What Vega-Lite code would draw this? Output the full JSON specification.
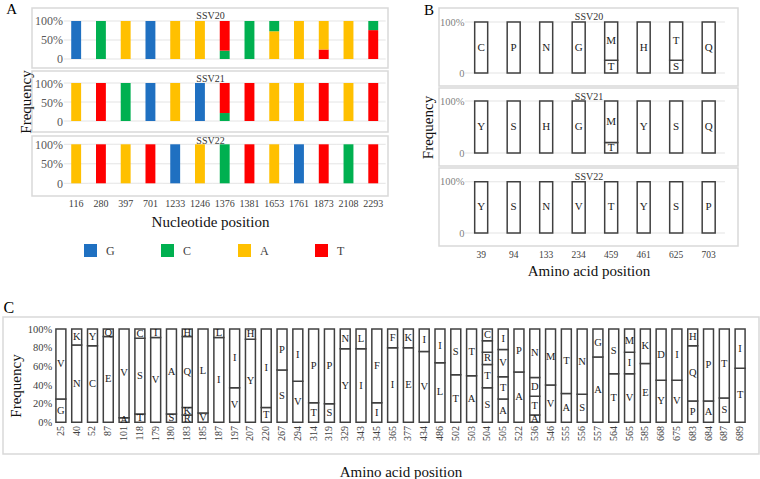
{
  "$schema": "https://vega.github.io/schema/vega-lite/v6.json",
  "padding": {"left": 2, "top": 0, "right": 0, "bottom": 0},
  "config": {
    "view": {"stroke": "#d9d9d9", "strokeWidth": 1.5},
    "font": "Liberation Serif",
    "axis": {"labelFont": "Liberation Serif", "titleFont": "Liberation Serif", "titleFontWeight": "normal", "labelColor": "#404040", "titleColor": "#111111", "ticks": false, "domain": false, "grid": false, "labelOverlap": false},
    "legend": {"labelFont": "Liberation Serif"}
  },
  "datasets": {
    "gridA": [
      {"pos": "116", "v": 0}, {"pos": "280", "v": 0}, {"pos": "397", "v": 0}, {"pos": "701", "v": 0}, {"pos": "1233", "v": 0}, {"pos": "1246", "v": 0}, {"pos": "1376", "v": 0}, {"pos": "1381", "v": 0}, {"pos": "1653", "v": 0}, {"pos": "1761", "v": 0}, {"pos": "1873", "v": 0}, {"pos": "2108", "v": 0}, {"pos": "2293", "v": 0},
      {"pos": "116", "v": 0.5}, {"pos": "280", "v": 0.5}, {"pos": "397", "v": 0.5}, {"pos": "701", "v": 0.5}, {"pos": "1233", "v": 0.5}, {"pos": "1246", "v": 0.5}, {"pos": "1376", "v": 0.5}, {"pos": "1381", "v": 0.5}, {"pos": "1653", "v": 0.5}, {"pos": "1761", "v": 0.5}, {"pos": "1873", "v": 0.5}, {"pos": "2108", "v": 0.5}, {"pos": "2293", "v": 0.5},
      {"pos": "116", "v": 1}, {"pos": "280", "v": 1}, {"pos": "397", "v": 1}, {"pos": "701", "v": 1}, {"pos": "1233", "v": 1}, {"pos": "1246", "v": 1}, {"pos": "1376", "v": 1}, {"pos": "1381", "v": 1}, {"pos": "1653", "v": 1}, {"pos": "1761", "v": 1}, {"pos": "1873", "v": 1}, {"pos": "2108", "v": 1}, {"pos": "2293", "v": 1}
    ],
    "gridB": [
      {"pos": "39", "v": 0}, {"pos": "94", "v": 0}, {"pos": "133", "v": 0}, {"pos": "234", "v": 0}, {"pos": "459", "v": 0}, {"pos": "461", "v": 0}, {"pos": "625", "v": 0}, {"pos": "703", "v": 0},
      {"pos": "39", "v": 1}, {"pos": "94", "v": 1}, {"pos": "133", "v": 1}, {"pos": "234", "v": 1}, {"pos": "459", "v": 1}, {"pos": "461", "v": 1}, {"pos": "625", "v": 1}, {"pos": "703", "v": 1}
    ],
    "nt": [
      {"s": "SSV20", "pos": "116", "nt": "G", "v": 1, "o": 1},
      {"s": "SSV20", "pos": "280", "nt": "C", "v": 1, "o": 1},
      {"s": "SSV20", "pos": "397", "nt": "A", "v": 1, "o": 1},
      {"s": "SSV20", "pos": "701", "nt": "G", "v": 1, "o": 1},
      {"s": "SSV20", "pos": "1233", "nt": "A", "v": 1, "o": 1},
      {"s": "SSV20", "pos": "1246", "nt": "A", "v": 1, "o": 1},
      {"s": "SSV20", "pos": "1376", "nt": "C", "v": 0.22, "o": 1},
      {"s": "SSV20", "pos": "1376", "nt": "T", "v": 0.78, "o": 2},
      {"s": "SSV20", "pos": "1381", "nt": "C", "v": 1, "o": 1},
      {"s": "SSV20", "pos": "1653", "nt": "A", "v": 0.73, "o": 1},
      {"s": "SSV20", "pos": "1653", "nt": "C", "v": 0.27, "o": 2},
      {"s": "SSV20", "pos": "1761", "nt": "A", "v": 1, "o": 1},
      {"s": "SSV20", "pos": "1873", "nt": "T", "v": 0.25, "o": 1},
      {"s": "SSV20", "pos": "1873", "nt": "A", "v": 0.75, "o": 2},
      {"s": "SSV20", "pos": "2108", "nt": "A", "v": 1, "o": 1},
      {"s": "SSV20", "pos": "2293", "nt": "T", "v": 0.76, "o": 1},
      {"s": "SSV20", "pos": "2293", "nt": "C", "v": 0.24, "o": 2},
      {"s": "SSV21", "pos": "116", "nt": "A", "v": 1, "o": 1},
      {"s": "SSV21", "pos": "280", "nt": "T", "v": 1, "o": 1},
      {"s": "SSV21", "pos": "397", "nt": "C", "v": 1, "o": 1},
      {"s": "SSV21", "pos": "701", "nt": "G", "v": 1, "o": 1},
      {"s": "SSV21", "pos": "1233", "nt": "A", "v": 1, "o": 1},
      {"s": "SSV21", "pos": "1246", "nt": "G", "v": 1, "o": 1},
      {"s": "SSV21", "pos": "1376", "nt": "C", "v": 0.21, "o": 1},
      {"s": "SSV21", "pos": "1376", "nt": "T", "v": 0.79, "o": 2},
      {"s": "SSV21", "pos": "1381", "nt": "T", "v": 1, "o": 1},
      {"s": "SSV21", "pos": "1653", "nt": "A", "v": 1, "o": 1},
      {"s": "SSV21", "pos": "1761", "nt": "A", "v": 1, "o": 1},
      {"s": "SSV21", "pos": "1873", "nt": "T", "v": 1, "o": 1},
      {"s": "SSV21", "pos": "2108", "nt": "A", "v": 1, "o": 1},
      {"s": "SSV21", "pos": "2293", "nt": "T", "v": 1, "o": 1},
      {"s": "SSV22", "pos": "116", "nt": "A", "v": 1, "o": 1},
      {"s": "SSV22", "pos": "280", "nt": "T", "v": 1, "o": 1},
      {"s": "SSV22", "pos": "397", "nt": "A", "v": 1, "o": 1},
      {"s": "SSV22", "pos": "701", "nt": "T", "v": 1, "o": 1},
      {"s": "SSV22", "pos": "1233", "nt": "G", "v": 1, "o": 1},
      {"s": "SSV22", "pos": "1246", "nt": "A", "v": 1, "o": 1},
      {"s": "SSV22", "pos": "1376", "nt": "C", "v": 1, "o": 1},
      {"s": "SSV22", "pos": "1381", "nt": "T", "v": 1, "o": 1},
      {"s": "SSV22", "pos": "1653", "nt": "A", "v": 1, "o": 1},
      {"s": "SSV22", "pos": "1761", "nt": "G", "v": 1, "o": 1},
      {"s": "SSV22", "pos": "1873", "nt": "T", "v": 1, "o": 1},
      {"s": "SSV22", "pos": "2108", "nt": "C", "v": 1, "o": 1},
      {"s": "SSV22", "pos": "2293", "nt": "T", "v": 1, "o": 1}
    ],
    "aaB": [
      {"s": "SSV20", "pos": "39", "aa": "C", "v": 1, "o": 1},
      {"s": "SSV20", "pos": "94", "aa": "P", "v": 1, "o": 1},
      {"s": "SSV20", "pos": "133", "aa": "N", "v": 1, "o": 1},
      {"s": "SSV20", "pos": "234", "aa": "G", "v": 1, "o": 1},
      {"s": "SSV20", "pos": "459", "aa": "T", "v": 0.25, "o": 1},
      {"s": "SSV20", "pos": "459", "aa": "M", "v": 0.75, "o": 2},
      {"s": "SSV20", "pos": "461", "aa": "H", "v": 1, "o": 1},
      {"s": "SSV20", "pos": "625", "aa": "S", "v": 0.25, "o": 1},
      {"s": "SSV20", "pos": "625", "aa": "T", "v": 0.75, "o": 2},
      {"s": "SSV20", "pos": "703", "aa": "Q", "v": 1, "o": 1},
      {"s": "SSV21", "pos": "39", "aa": "Y", "v": 1, "o": 1},
      {"s": "SSV21", "pos": "94", "aa": "S", "v": 1, "o": 1},
      {"s": "SSV21", "pos": "133", "aa": "H", "v": 1, "o": 1},
      {"s": "SSV21", "pos": "234", "aa": "G", "v": 1, "o": 1},
      {"s": "SSV21", "pos": "459", "aa": "T", "v": 0.2, "o": 1},
      {"s": "SSV21", "pos": "459", "aa": "M", "v": 0.8, "o": 2},
      {"s": "SSV21", "pos": "461", "aa": "Y", "v": 1, "o": 1},
      {"s": "SSV21", "pos": "625", "aa": "S", "v": 1, "o": 1},
      {"s": "SSV21", "pos": "703", "aa": "Q", "v": 1, "o": 1},
      {"s": "SSV22", "pos": "39", "aa": "Y", "v": 1, "o": 1},
      {"s": "SSV22", "pos": "94", "aa": "S", "v": 1, "o": 1},
      {"s": "SSV22", "pos": "133", "aa": "N", "v": 1, "o": 1},
      {"s": "SSV22", "pos": "234", "aa": "V", "v": 1, "o": 1},
      {"s": "SSV22", "pos": "459", "aa": "T", "v": 1, "o": 1},
      {"s": "SSV22", "pos": "461", "aa": "Y", "v": 1, "o": 1},
      {"s": "SSV22", "pos": "625", "aa": "S", "v": 1, "o": 1},
      {"s": "SSV22", "pos": "703", "aa": "P", "v": 1, "o": 1}
    ],
    "aaC": [
      {"pos": "25", "aa": "G", "v": 0.25, "o": 1}, {"pos": "25", "aa": "V", "v": 0.75, "o": 2},
      {"pos": "40", "aa": "N", "v": 0.83, "o": 1}, {"pos": "40", "aa": "K", "v": 0.17, "o": 2},
      {"pos": "52", "aa": "C", "v": 0.82, "o": 1}, {"pos": "52", "aa": "Y", "v": 0.18, "o": 2},
      {"pos": "87", "aa": "E", "v": 0.92, "o": 1}, {"pos": "87", "aa": "Q", "v": 0.08, "o": 2},
      {"pos": "101", "aa": "A", "v": 0.05, "o": 1}, {"pos": "101", "aa": "V", "v": 0.95, "o": 2},
      {"pos": "118", "aa": "T", "v": 0.09, "o": 1}, {"pos": "118", "aa": "S", "v": 0.81, "o": 2}, {"pos": "118", "aa": "C", "v": 0.10, "o": 3},
      {"pos": "179", "aa": "V", "v": 0.91, "o": 1}, {"pos": "179", "aa": "I", "v": 0.09, "o": 2},
      {"pos": "180", "aa": "S", "v": 0.09, "o": 1}, {"pos": "180", "aa": "A", "v": 0.91, "o": 2},
      {"pos": "183", "aa": "R", "v": 0.08, "o": 1}, {"pos": "183", "aa": "K", "v": 0.08, "o": 2}, {"pos": "183", "aa": "Q", "v": 0.76, "o": 3}, {"pos": "183", "aa": "H", "v": 0.08, "o": 4},
      {"pos": "185", "aa": "V", "v": 0.10, "o": 1}, {"pos": "185", "aa": "L", "v": 0.90, "o": 2},
      {"pos": "187", "aa": "I", "v": 0.91, "o": 1}, {"pos": "187", "aa": "L", "v": 0.09, "o": 2},
      {"pos": "197", "aa": "V", "v": 0.37, "o": 1}, {"pos": "197", "aa": "I", "v": 0.63, "o": 2},
      {"pos": "207", "aa": "Y", "v": 0.89, "o": 1}, {"pos": "207", "aa": "H", "v": 0.11, "o": 2},
      {"pos": "220", "aa": "T", "v": 0.16, "o": 1}, {"pos": "220", "aa": "I", "v": 0.84, "o": 2},
      {"pos": "267", "aa": "S", "v": 0.56, "o": 1}, {"pos": "267", "aa": "P", "v": 0.44, "o": 2},
      {"pos": "294", "aa": "V", "v": 0.44, "o": 1}, {"pos": "294", "aa": "I", "v": 0.56, "o": 2},
      {"pos": "314", "aa": "T", "v": 0.21, "o": 1}, {"pos": "314", "aa": "P", "v": 0.79, "o": 2},
      {"pos": "319", "aa": "S", "v": 0.20, "o": 1}, {"pos": "319", "aa": "P", "v": 0.80, "o": 2},
      {"pos": "329", "aa": "Y", "v": 0.79, "o": 1}, {"pos": "329", "aa": "N", "v": 0.21, "o": 2},
      {"pos": "343", "aa": "I", "v": 0.79, "o": 1}, {"pos": "343", "aa": "L", "v": 0.21, "o": 2},
      {"pos": "345", "aa": "I", "v": 0.21, "o": 1}, {"pos": "345", "aa": "F", "v": 0.79, "o": 2},
      {"pos": "365", "aa": "I", "v": 0.80, "o": 1}, {"pos": "365", "aa": "F", "v": 0.20, "o": 2},
      {"pos": "377", "aa": "E", "v": 0.80, "o": 1}, {"pos": "377", "aa": "K", "v": 0.20, "o": 2},
      {"pos": "434", "aa": "V", "v": 0.76, "o": 1}, {"pos": "434", "aa": "I", "v": 0.24, "o": 2},
      {"pos": "486", "aa": "L", "v": 0.64, "o": 1}, {"pos": "486", "aa": "I", "v": 0.36, "o": 2},
      {"pos": "502", "aa": "T", "v": 0.51, "o": 1}, {"pos": "502", "aa": "S", "v": 0.49, "o": 2},
      {"pos": "503", "aa": "A", "v": 0.50, "o": 1}, {"pos": "503", "aa": "T", "v": 0.50, "o": 2},
      {"pos": "504", "aa": "S", "v": 0.37, "o": 1}, {"pos": "504", "aa": "T", "v": 0.25, "o": 2}, {"pos": "504", "aa": "R", "v": 0.13, "o": 3}, {"pos": "504", "aa": "", "v": 0.125, "o": 4}, {"pos": "504", "aa": "C", "v": 0.125, "o": 5},
      {"pos": "505", "aa": "A", "v": 0.25, "o": 1}, {"pos": "505", "aa": "T", "v": 0.24, "o": 2}, {"pos": "505", "aa": "V", "v": 0.29, "o": 3}, {"pos": "505", "aa": "I", "v": 0.22, "o": 4},
      {"pos": "522", "aa": "A", "v": 0.54, "o": 1}, {"pos": "522", "aa": "P", "v": 0.46, "o": 2},
      {"pos": "536", "aa": "A", "v": 0.08, "o": 1}, {"pos": "536", "aa": "T", "v": 0.20, "o": 2}, {"pos": "536", "aa": "D", "v": 0.20, "o": 3}, {"pos": "536", "aa": "N", "v": 0.52, "o": 4},
      {"pos": "546", "aa": "V", "v": 0.40, "o": 1}, {"pos": "546", "aa": "M", "v": 0.60, "o": 2},
      {"pos": "555", "aa": "A", "v": 0.31, "o": 1}, {"pos": "555", "aa": "T", "v": 0.69, "o": 2},
      {"pos": "556", "aa": "S", "v": 0.30, "o": 1}, {"pos": "556", "aa": "N", "v": 0.70, "o": 2},
      {"pos": "557", "aa": "A", "v": 0.70, "o": 1}, {"pos": "557", "aa": "G", "v": 0.30, "o": 2},
      {"pos": "564", "aa": "T", "v": 0.52, "o": 1}, {"pos": "564", "aa": "S", "v": 0.48, "o": 2},
      {"pos": "565", "aa": "V", "v": 0.52, "o": 1}, {"pos": "565", "aa": "I", "v": 0.23, "o": 2}, {"pos": "565", "aa": "M", "v": 0.25, "o": 3},
      {"pos": "585", "aa": "E", "v": 0.63, "o": 1}, {"pos": "585", "aa": "K", "v": 0.37, "o": 2},
      {"pos": "668", "aa": "Y", "v": 0.45, "o": 1}, {"pos": "668", "aa": "D", "v": 0.55, "o": 2},
      {"pos": "675", "aa": "V", "v": 0.45, "o": 1}, {"pos": "675", "aa": "I", "v": 0.55, "o": 2},
      {"pos": "683", "aa": "P", "v": 0.23, "o": 1}, {"pos": "683", "aa": "Q", "v": 0.59, "o": 2}, {"pos": "683", "aa": "H", "v": 0.18, "o": 3},
      {"pos": "684", "aa": "A", "v": 0.23, "o": 1}, {"pos": "684", "aa": "P", "v": 0.77, "o": 2},
      {"pos": "687", "aa": "S", "v": 0.26, "o": 1}, {"pos": "687", "aa": "T", "v": 0.74, "o": 2},
      {"pos": "689", "aa": "T", "v": 0.58, "o": 1}, {"pos": "689", "aa": "I", "v": 0.42, "o": 2}
    ]
  },
  "concat": [
    {
      "spacing": 0,
      "hconcat": [
        {"width": 1, "height": 1, "view": {"stroke": null}, "data": {"values": []}, "mark": "point"},
        {
          "spacing": 30,
          "hconcat": [
            {
              "resolve": {"scale": {"color": "independent", "x": "independent", "y": "independent"}},
              "spacing": 0,
              "vconcat": [
                {
                  "width": 356, "height": 60,
                  "resolve": {"axis": {"x": "independent"}},
                  "layer": [
                    {"data": {"name": "gridA"}, "mark": {"type": "tick", "color": "#d9d9d9", "thickness": 1, "size": 24.8},
                     "encoding": {
                       "x": {"field": "pos", "type": "nominal", "axis": {"orient": "top", "labels": false, "title": "SSV20", "titleFontSize": 10, "titleColor": "#333333", "titleBaseline": "middle", "titleY": 7.5, "titlePadding": 0}},
                       "y": {"field": "v", "type": "quantitative", "axis": {"values": [0, 0.5, 1], "labelExpr": "datum.value == 0 ? '0' : format(datum.value, '.0%')", "offset": -31.5, "labelPadding": 1, "labelFontSize": 12, "labelColor": "#595959", "title": "A", "titleAngle": 0, "titleAlign": "right", "titleBaseline": "alphabetic", "titleY": 5, "titlePadding": 18, "titleFontSize": 15, "titleColor": "#000000"}}
                     }},
                    {"data": {"name": "nt"}, "transform": [{"filter": "datum.s == 'SSV20'"}], "mark": {"type": "bar"},
                     "encoding": {
                       "x": {"field": "pos", "type": "nominal", "scale": {"type": "band", "domain": ["116","280","397","701","1233","1246","1376","1381","1653","1761","1873","2108","2293"], "paddingInner": 0.6, "paddingOuter": 0.99, "align": 0.8}, "axis": null},
                       "y": {"field": "v", "type": "quantitative", "stack": "zero", "scale": {"domain": [-0.237, 1.342], "nice": false, "zero": false}, "axis": {"values": [0, 0.5, 1], "labelExpr": "datum.value == 0 ? '0' : format(datum.value, '.0%')", "offset": -31.5, "labelPadding": 1, "labelFontSize": 12, "labelColor": "#595959", "title": "A", "titleAngle": 0, "titleAlign": "right", "titleBaseline": "alphabetic", "titleY": 5, "titlePadding": 18, "titleFontSize": 15, "titleColor": "#000000"}},
                       "color": {"field": "nt", "type": "nominal", "scale": {"domain": ["G", "C", "A", "T"], "range": ["#1f70c1", "#00b050", "#ffc000", "#ff0000"]}, "legend": null},
                       "order": {"field": "o", "type": "quantitative"}
                     }}
                  ]
                },
                {
                  "width": 356, "height": 61,
                  "resolve": {"axis": {"x": "independent"}},
                  "layer": [
                    {"data": {"name": "gridA"}, "mark": {"type": "tick", "color": "#d9d9d9", "thickness": 1, "size": 24.8},
                     "encoding": {
                       "x": {"field": "pos", "type": "nominal", "axis": {"orient": "top", "labels": false, "title": "SSV21", "titleFontSize": 10, "titleColor": "#333333", "titleBaseline": "middle", "titleY": 7, "titlePadding": 0}},
                       "y": {"field": "v", "type": "quantitative", "axis": {"values": [0, 0.5, 1], "labelExpr": "datum.value == 0 ? '0' : format(datum.value, '.0%')", "offset": -31.5, "labelPadding": 1, "labelFontSize": 12, "labelColor": "#595959", "title": "Frequency", "titleFontSize": 15, "titlePadding": 1}}
                     }},
                    {"data": {"name": "nt"}, "transform": [{"filter": "datum.s == 'SSV21'"}], "mark": {"type": "bar"},
                     "encoding": {
                       "x": {"field": "pos", "type": "nominal", "scale": {"type": "band", "domain": ["116","280","397","701","1233","1246","1376","1381","1653","1761","1873","2108","2293"], "paddingInner": 0.6, "paddingOuter": 0.99, "align": 0.8}, "axis": null},
                       "y": {"field": "v", "type": "quantitative", "stack": "zero", "scale": {"domain": [-0.289, 1.316], "nice": false, "zero": false}, "axis": {"values": [0, 0.5, 1], "labelExpr": "datum.value == 0 ? '0' : format(datum.value, '.0%')", "offset": -31.5, "labelPadding": 1, "labelFontSize": 12, "labelColor": "#595959", "title": "Frequency", "titleFontSize": 15, "titlePadding": 1}},
                       "color": {"field": "nt", "type": "nominal", "scale": {"domain": ["G", "C", "A", "T"], "range": ["#1f70c1", "#00b050", "#ffc000", "#ff0000"]}, "legend": null},
                       "order": {"field": "o", "type": "quantitative"}
                     }}
                  ]
                },
                {
                  "width": 356, "height": 60,
                  "resolve": {"axis": {"x": "independent"}},
                  "layer": [
                    {"data": {"name": "gridA"}, "mark": {"type": "tick", "color": "#d9d9d9", "thickness": 1, "size": 24.8},
                     "encoding": {
                       "x": {"field": "pos", "type": "nominal", "axis": {"orient": "top", "labels": false, "title": "SSV22", "titleFontSize": 10, "titleColor": "#333333", "titleBaseline": "middle", "titleY": 4.5, "titlePadding": 0}},
                       "y": {"field": "v", "type": "quantitative", "axis": {"values": [0, 0.5, 1], "labelExpr": "datum.value == 0 ? '0' : format(datum.value, '.0%')", "offset": -31.5, "labelPadding": 1, "labelFontSize": 12, "labelColor": "#595959", "title": null}}
                     }},
                    {"data": {"name": "nt"}, "transform": [{"filter": "datum.s == 'SSV22'"}], "mark": {"type": "bar"},
                     "encoding": {
                       "x": {"field": "pos", "type": "nominal", "scale": {"type": "band", "domain": ["116","280","397","701","1233","1246","1376","1381","1653","1761","1873","2108","2293"], "paddingInner": 0.6, "paddingOuter": 0.99, "align": 0.8}, "axis": {"labelAngle": 0, "labelFontSize": 10, "labelPadding": 2, "title": "Nucleotide position", "titleFontSize": 15, "titlePadding": 6}},
                       "y": {"field": "v", "type": "quantitative", "stack": "zero", "scale": {"domain": [-0.326, 1.213], "nice": false, "zero": false}, "axis": {"values": [0, 0.5, 1], "labelExpr": "datum.value == 0 ? '0' : format(datum.value, '.0%')", "offset": -31.5, "labelPadding": 1, "labelFontSize": 12, "labelColor": "#595959", "title": null}},
                       "color": {"field": "nt", "type": "nominal", "scale": {"domain": ["G", "C", "A", "T"], "range": ["#1f70c1", "#00b050", "#ffc000", "#ff0000"]}, "legend": {"orient": "none", "legendX": 52, "legendY": 108, "padding": 0, "direction": "horizontal", "title": null, "symbolType": "square", "symbolSize": 169, "symbolStrokeWidth": 0, "labelFontSize": 12, "labelColor": "#404040", "labelOffset": 9, "columnPadding": 46}},
                       "order": {"field": "o", "type": "quantitative"}
                     }}
                  ]
                }
              ]
            },
            {
              "resolve": {"scale": {"x": "independent", "y": "independent"}},
              "spacing": 0,
              "vconcat": [
                {
                  "width": 299, "height": 78,
                  "resolve": {"axis": {"x": "independent"}},
                  "layer": [
                    {"data": {"name": "gridB"}, "mark": {"type": "tick", "color": "#d9d9d9", "thickness": 1, "size": 32.6},
                     "encoding": {
                       "x": {"field": "pos", "type": "nominal", "axis": {"orient": "top", "labels": false, "title": "SSV20", "titleFontSize": 10, "titleColor": "#333333", "titleBaseline": "middle", "titleY": 8, "titlePadding": 0}},
                       "y": {"field": "v", "type": "quantitative", "axis": {"values": [0, 1], "labelExpr": "datum.value == 0 ? '0' : format(datum.value, '.0%')", "offset": -26, "labelPadding": 1, "labelFontSize": 10.5, "labelColor": "#7f7f7f", "title": "B", "titleAngle": 0, "titleAlign": "right", "titleBaseline": "alphabetic", "titleY": 6, "titlePadding": 6, "titleFontSize": 15, "titleColor": "#000000"}}
                     }},
                    {"data": {"name": "aaB"}, "transform": [{"filter": "datum.s == 'SSV20'"}], "mark": {"type": "bar", "fill": "#ffffff", "stroke": "#404040", "strokeWidth": 1.5},
                     "encoding": {
                       "x": {"field": "pos", "type": "nominal", "scale": {"type": "band", "domain": ["39","94","133","234","459","461","625","703"], "paddingInner": 0.6, "paddingOuter": 0.9, "align": 0.61}, "axis": null},
                       "y": {"field": "v", "type": "quantitative", "stack": "zero", "scale": {"domain": [-0.255, 1.275], "nice": false, "zero": false}, "axis": {"values": [0, 1], "labelExpr": "datum.value == 0 ? '0' : format(datum.value, '.0%')", "offset": -26, "labelPadding": 1, "labelFontSize": 10.5, "labelColor": "#7f7f7f", "title": "B", "titleAngle": 0, "titleAlign": "right", "titleBaseline": "alphabetic", "titleY": 6, "titlePadding": 6, "titleFontSize": 15, "titleColor": "#000000"}},
                       "detail": {"field": "o", "type": "nominal"},
                       "order": {"field": "o", "type": "quantitative"}
                     }},
                    {"data": {"name": "aaB"}, "transform": [{"filter": "datum.s == 'SSV20'"}], "mark": {"type": "text", "font": "Liberation Serif", "fontSize": 11, "fill": "#1a1a1a"},
                     "encoding": {
                       "x": {"field": "pos", "type": "nominal", "axis": null},
                       "y": {"field": "v", "type": "quantitative", "stack": "zero", "bandPosition": 0.5, "axis": {"values": [0, 1], "labelExpr": "datum.value == 0 ? '0' : format(datum.value, '.0%')", "offset": -26, "labelPadding": 1, "labelFontSize": 10.5, "labelColor": "#7f7f7f", "title": "B", "titleAngle": 0, "titleAlign": "right", "titleBaseline": "alphabetic", "titleY": 6, "titlePadding": 6, "titleFontSize": 15, "titleColor": "#000000"}},
                       "detail": {"field": "o", "type": "nominal"},
                       "order": {"field": "o", "type": "quantitative"},
                       "text": {"field": "aa", "type": "nominal"}
                     }}
                  ]
                },
                {
                  "width": 299, "height": 78,
                  "resolve": {"axis": {"x": "independent"}},
                  "layer": [
                    {"data": {"name": "gridB"}, "mark": {"type": "tick", "color": "#d9d9d9", "thickness": 1, "size": 32.6},
                     "encoding": {
                       "x": {"field": "pos", "type": "nominal", "axis": {"orient": "top", "labels": false, "title": "SSV21", "titleFontSize": 10, "titleColor": "#333333", "titleBaseline": "middle", "titleY": 8, "titlePadding": 0}},
                       "y": {"field": "v", "type": "quantitative", "axis": {"values": [0, 1], "labelExpr": "datum.value == 0 ? '0' : format(datum.value, '.0%')", "offset": -26, "labelPadding": 1, "labelFontSize": 10.5, "labelColor": "#7f7f7f", "title": "Frequency", "titleFontSize": 15, "titlePadding": 4}}
                     }},
                    {"data": {"name": "aaB"}, "transform": [{"filter": "datum.s == 'SSV21'"}], "mark": {"type": "bar", "fill": "#ffffff", "stroke": "#404040", "strokeWidth": 1.5},
                     "encoding": {
                       "x": {"field": "pos", "type": "nominal", "scale": {"type": "band", "domain": ["39","94","133","234","459","461","625","703"], "paddingInner": 0.6, "paddingOuter": 0.9, "align": 0.61}, "axis": null},
                       "y": {"field": "v", "type": "quantitative", "stack": "zero", "scale": {"domain": [-0.25, 1.25], "nice": false, "zero": false}, "axis": {"values": [0, 1], "labelExpr": "datum.value == 0 ? '0' : format(datum.value, '.0%')", "offset": -26, "labelPadding": 1, "labelFontSize": 10.5, "labelColor": "#7f7f7f", "title": "Frequency", "titleFontSize": 15, "titlePadding": 4}},
                       "detail": {"field": "o", "type": "nominal"},
                       "order": {"field": "o", "type": "quantitative"}
                     }},
                    {"data": {"name": "aaB"}, "transform": [{"filter": "datum.s == 'SSV21'"}], "mark": {"type": "text", "font": "Liberation Serif", "fontSize": 11, "fill": "#1a1a1a"},
                     "encoding": {
                       "x": {"field": "pos", "type": "nominal", "axis": null},
                       "y": {"field": "v", "type": "quantitative", "stack": "zero", "bandPosition": 0.5, "axis": {"values": [0, 1], "labelExpr": "datum.value == 0 ? '0' : format(datum.value, '.0%')", "offset": -26, "labelPadding": 1, "labelFontSize": 10.5, "labelColor": "#7f7f7f", "title": "Frequency", "titleFontSize": 15, "titlePadding": 4}},
                       "detail": {"field": "o", "type": "nominal"},
                       "order": {"field": "o", "type": "quantitative"},
                       "text": {"field": "aa", "type": "nominal"}
                     }}
                  ]
                },
                {
                  "width": 299, "height": 78,
                  "resolve": {"axis": {"x": "independent"}},
                  "layer": [
                    {"data": {"name": "gridB"}, "mark": {"type": "tick", "color": "#d9d9d9", "thickness": 1, "size": 32.6},
                     "encoding": {
                       "x": {"field": "pos", "type": "nominal", "axis": {"orient": "top", "labels": false, "title": "SSV22", "titleFontSize": 10, "titleColor": "#333333", "titleBaseline": "middle", "titleY": 8, "titlePadding": 0}},
                       "y": {"field": "v", "type": "quantitative", "axis": {"values": [0, 1], "labelExpr": "datum.value == 0 ? '0' : format(datum.value, '.0%')", "offset": -26, "labelPadding": 1, "labelFontSize": 10.5, "labelColor": "#7f7f7f", "title": null}}
                     }},
                    {"data": {"name": "aaB"}, "transform": [{"filter": "datum.s == 'SSV22'"}], "mark": {"type": "bar", "fill": "#ffffff", "stroke": "#404040", "strokeWidth": 1.5},
                     "encoding": {
                       "x": {"field": "pos", "type": "nominal", "scale": {"type": "band", "domain": ["39","94","133","234","459","461","625","703"], "paddingInner": 0.6, "paddingOuter": 0.9, "align": 0.61}, "axis": {"labelAngle": 0, "labelFontSize": 9.5, "labelPadding": 3, "title": "Amino acid position", "titleFontSize": 15, "titlePadding": 5}},
                       "y": {"field": "v", "type": "quantitative", "stack": "zero", "scale": {"domain": [-0.253, 1.267], "nice": false, "zero": false}, "axis": {"values": [0, 1], "labelExpr": "datum.value == 0 ? '0' : format(datum.value, '.0%')", "offset": -26, "labelPadding": 1, "labelFontSize": 10.5, "labelColor": "#7f7f7f", "title": null}},
                       "detail": {"field": "o", "type": "nominal"},
                       "order": {"field": "o", "type": "quantitative"}
                     }},
                    {"data": {"name": "aaB"}, "transform": [{"filter": "datum.s == 'SSV22'"}], "mark": {"type": "text", "font": "Liberation Serif", "fontSize": 11, "fill": "#1a1a1a"},
                     "encoding": {
                       "x": {"field": "pos", "type": "nominal", "axis": null},
                       "y": {"field": "v", "type": "quantitative", "stack": "zero", "bandPosition": 0.5, "axis": {"values": [0, 1], "labelExpr": "datum.value == 0 ? '0' : format(datum.value, '.0%')", "offset": -26, "labelPadding": 1, "labelFontSize": 10.5, "labelColor": "#7f7f7f", "title": null}},
                       "detail": {"field": "o", "type": "nominal"},
                       "order": {"field": "o", "type": "quantitative"},
                       "text": {"field": "aa", "type": "nominal"}
                     }}
                  ]
                }
              ]
            }
          ]
        }
      ]
    },
    {
      "width": 756, "height": 137,
      "data": {"name": "aaC"},
      "resolve": {"axis": {"x": "independent"}},
      "layer": [
        {"mark": {"type": "bar", "fill": "#ffffff", "stroke": "#404040", "strokeWidth": 1.5},
         "encoding": {
           "x": {"field": "pos", "type": "nominal", "scale": {"type": "band", "domain": ["25","40","52","87","101","118","179","180","183","185","187","197","207","220","267","294","314","319","329","343","345","365","377","434","486","502","503","504","505","522","536","546","555","556","557","564","565","585","668","675","683","684","687","689"], "range": [50, 745], "paddingInner": 0.37, "paddingOuter": 0.185}, "axis": {"labelAngle": 270, "labelFontSize": 10, "labelPadding": 3, "offset": -31.6, "title": "Amino acid position", "titleFontSize": 15, "titlePadding": 24}},
           "y": {"field": "v", "type": "quantitative", "stack": "zero", "scale": {"domain": [-0.339, 1.129], "nice": false, "zero": false}, "axis": {"values": [0, 0.2, 0.4, 0.6, 0.8, 1], "format": ".0%", "offset": -50.7, "labelPadding": 2, "labelFontSize": 10.5, "labelColor": "#404040", "title": "Frequency", "titleFontSize": 15, "titlePadding": 4}},
           "detail": {"field": "o", "type": "nominal"},
           "order": {"field": "o", "type": "quantitative"}
         }},
        {"mark": {"type": "text", "font": "Liberation Serif", "fontSize": 10.5, "fill": "#1a1a1a"},
         "encoding": {
           "x": {"field": "pos", "type": "nominal", "axis": {"orient": "top", "labels": false, "title": "C", "titleFontSize": 16, "titleColor": "#000000", "titleAlign": "left", "titleBaseline": "alphabetic", "titleX": 0, "titleY": -5, "titlePadding": 0}},
           "y": {"field": "v", "type": "quantitative", "stack": "zero", "bandPosition": 0.5, "axis": {"values": [0, 0.2, 0.4, 0.6, 0.8, 1], "format": ".0%", "offset": -50.7, "labelPadding": 2, "labelFontSize": 10.5, "labelColor": "#404040", "title": "Frequency", "titleFontSize": 15, "titlePadding": 4}},
           "detail": {"field": "o", "type": "nominal"},
           "order": {"field": "o", "type": "quantitative"},
           "text": {"field": "aa", "type": "nominal"}
         }}
      ]
    }
  ],
  "columns": 1,
  "spacing": 18
}
